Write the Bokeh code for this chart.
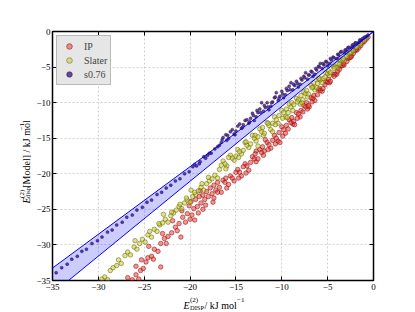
import math
from bokeh.plotting import figure
from bokeh.models import FixedTicker, LinearAxis, Label, Range1d
from bokeh.layouts import column, row
from bokeh.embed import file_html
from bokeh.resources import INLINE

# ---- data ----
ip_pts = [
    (-26.8, -34.6), (-26.3, -34.9), (-25.9, -34.2), (-25.6, -34.8), (-25.4, -33.6), (-25.9, -33.0),
    (-25.1, -33.3), (-24.8, -32.4), (-25.3, -32.1), (-24.6, -31.8), (-24.2, -31.6), (-23.9, -30.6),
    (-24.5, -30.2), (-23.5, -30.9), (-23.2, -33.1), (-23.2, -29.8), (-22.8, -29.1), (-23.0, -28.4),
    (-22.4, -28.8), (-22.0, -28.3), (-21.6, -27.5), (-21.9, -26.6), (-21.2, -27.0), (-21.0, -28.9),
    (-20.8, -26.1), (-20.5, -26.8), (-20.9, -25.2), (-20.3, -25.6), (-20.1, -24.5), (-19.8, -25.8),
    (-19.6, -24.9), (-19.4, -23.6), (-19.9, -23.9), (-19.2, -24.6), (-19.0, -23.2), (-18.8, -24.1),
    (-18.6, -23.0), (-18.9, -22.4), (-18.4, -23.6), (-18.2, -22.5), (-18.0, -23.2), (-17.8, -22.0),
    (-17.6, -22.8), (-17.5, -24.0), (-17.4, -21.6), (-17.2, -22.3), (-17.0, -21.2),
    (-16.8, -21.9), (-16.4, -20.9), (-16.0, -22.0), (-15.6, -20.3), (-15.2, -21.0), (-14.8, -19.4),
    (-14.4, -20.3), (-14.0, -18.6), (-13.6, -19.5), (-13.2, -17.6), (-12.8, -18.3), (-12.4, -16.6),
    (-12.0, -17.4), (-11.6, -15.6), (-11.2, -16.4), (-10.8, -14.6), (-10.4, -15.4), (-10.0, -13.4),
    (-9.6, -14.3), (-9.2, -12.4), (-8.8, -13.0), (-8.4, -11.4), (-8.0, -12.0), (-7.6, -10.4),
    (-7.2, -10.9), (-6.8, -9.3), (-6.4, -9.7), (-6.0, -8.2), (-5.6, -8.4), (-5.2, -7.1),
    (-4.8, -7.2), (-4.4, -6.0), (-4.0, -6.0), (-3.6, -4.9), (-3.2, -4.7), (-2.8, -3.8),
    (-2.4, -3.5), (-2.0, -2.7), (-1.6, -2.3), (-1.2, -1.6), (-0.8, -1.1),
    (-16.2, -21.2), (-15.4, -20.6), (-14.6, -19.8), (-13.8, -18.9), (-13.0, -17.9), (-12.2, -17.0),
    (-11.4, -15.9), (-10.6, -15.0), (-9.8, -13.8), (-9.0, -12.8), (-8.2, -11.6), (-7.4, -10.6),
    (-6.6, -9.4), (-5.8, -8.3), (-5.0, -7.1), (-4.2, -6.0), (-3.4, -4.8), (-2.6, -3.7),
    (-1.8, -2.6), (-10.2, -15.6), (-8.6, -13.1), (-7.0, -10.6), (-12.8, -16.8), (-11.8, -15.2),
    (-16.6, -22.6), (-16.1, -20.6), (-15.8, -21.5), (-15.0, -19.8), (-14.7, -20.6), (-14.2, -19.0),
    (-13.9, -19.9), (-13.4, -18.4), (-12.9, -17.2), (-12.6, -17.9), (-12.1, -16.2), (-11.9, -16.8),
    (-11.5, -16.6), (-11.0, -15.3), (-10.7, -15.8), (-10.3, -14.2), (-9.9, -14.7), (-9.5, -13.2),
    (-9.3, -13.7), (-8.9, -12.1), (-8.7, -12.6), (-8.3, -12.2), (-7.9, -11.1), (-7.7, -11.3),
    (-7.3, -10.0), (-7.1, -10.4), (-6.7, -9.9), (-6.5, -9.0), (-6.1, -8.9), (-5.9, -8.0),
    (-5.5, -8.0), (-5.3, -7.5), (-4.9, -6.7), (-4.7, -7.0), (-4.3, -6.3), (-3.9, -5.6),
    (-3.7, -5.3), (-3.3, -4.5), (-2.9, -4.2), (-2.5, -3.6), (-2.2, -3.1), (-1.9, -2.5),
    (-1.4, -2.0), (-1.0, -1.4), (-0.6, -0.8), (-17.4, -23.4), (-17.0, -22.6), (-18.3, -24.4),
    (-19.1, -25.5), (-20.0, -26.4), (-21.4, -28.0), (-22.6, -29.8), (-24.0, -32.0), (-19.5, -26.5),
    (-18.6, -25.0),
]

slater_pts = [
    (-29.6, -34.8), (-29.3, -34.5), (-29.0, -34.9), (-28.7, -33.6), (-28.4, -33.2), (-28.0, -32.9),
    (-27.8, -32.1), (-27.5, -32.6), (-27.1, -31.5), (-26.8, -31.0), (-26.5, -31.4), (-26.1, -30.3),
    (-26.0, -29.4), (-25.8, -30.6), (-25.5, -29.8), (-25.2, -29.2), (-24.9, -29.6), (-24.6, -28.6),
    (-24.2, -28.9), (-23.9, -27.8), (-23.6, -28.1), (-23.3, -27.2), (-23.0, -26.9), (-22.9, -25.7),
    (-22.7, -26.4), (-22.4, -26.8), (-22.1, -25.9), (-21.8, -25.5), (-21.5, -25.1), (-21.2, -24.6),
    (-20.9, -24.9), (-20.6, -24.1), (-20.3, -23.7), (-20.0, -24.0), (-19.9, -22.3), (-19.7, -23.2),
    (-19.4, -22.9), (-19.1, -22.4), (-18.8, -21.9), (-18.5, -22.3), (-18.2, -21.4), (-17.9, -21.0),
    (-17.6, -20.7), (-17.3, -20.2), (-17.0, -20.6),
    (-16.8, -19.4), (-16.4, -18.2), (-16.0, -18.9), (-15.6, -17.4), (-15.2, -18.1), (-14.8, -16.6),
    (-14.4, -17.2), (-14.0, -15.6), (-13.6, -16.3), (-13.2, -14.6), (-12.8, -15.4), (-12.4, -13.7),
    (-12.0, -14.6), (-11.6, -12.8), (-11.2, -13.8), (-10.8, -12.0), (-10.4, -12.9), (-10.0, -11.1),
    (-9.6, -12.0), (-9.2, -10.2), (-8.8, -11.1), (-8.4, -9.4), (-8.0, -10.2), (-7.6, -8.5),
    (-7.2, -9.2), (-6.8, -7.6), (-6.4, -8.2), (-6.0, -6.7), (-5.6, -7.2), (-5.2, -5.8),
    (-4.8, -6.2), (-4.4, -4.9), (-4.0, -5.1), (-3.6, -4.0), (-3.2, -4.1), (-2.8, -3.1),
    (-2.4, -3.0), (-2.0, -2.3), (-1.6, -2.0), (-1.2, -1.4), (-0.8, -0.9),
    (-16.2, -18.6), (-15.4, -17.8), (-14.6, -16.9), (-13.8, -16.0), (-13.0, -15.0), (-12.2, -14.1),
    (-11.4, -13.2), (-10.6, -12.4), (-9.8, -11.4), (-9.0, -10.6), (-8.2, -9.6), (-7.4, -8.7),
    (-6.6, -7.8), (-5.8, -6.8), (-5.0, -5.9), (-4.2, -5.0), (-3.4, -4.0), (-2.6, -3.1),
    (-1.8, -2.1), (-11.0, -14.1), (-9.4, -12.1), (-7.8, -10.0), (-6.2, -7.9), (-12.6, -16.1),
    (-16.6, -18.8), (-16.1, -19.3), (-15.8, -17.7), (-15.0, -17.5), (-14.7, -17.7), (-14.2, -16.7),
    (-13.9, -15.5), (-13.4, -15.8), (-12.9, -14.6), (-12.6, -14.8), (-12.1, -13.5), (-11.9, -14.3),
    (-11.5, -12.9), (-11.0, -12.9), (-10.7, -13.1), (-10.3, -11.8), (-9.9, -12.2), (-9.5, -10.9),
    (-9.3, -11.4), (-8.9, -10.0), (-8.7, -10.3), (-8.3, -9.9), (-7.9, -9.0), (-7.7, -9.6),
    (-7.3, -8.3), (-7.1, -8.8), (-6.7, -7.9), (-6.5, -7.2), (-6.1, -7.3), (-5.9, -6.6),
    (-5.5, -6.6), (-5.3, -6.4), (-4.9, -5.5), (-4.7, -5.8), (-4.3, -5.2), (-3.9, -4.5),
    (-3.7, -4.6), (-3.3, -3.8), (-2.9, -3.5), (-2.5, -2.9), (-2.2, -2.7), (-1.9, -2.2),
    (-1.4, -1.7), (-1.0, -1.2), (-18.0, -20.5), (-18.7, -21.4), (-19.5, -22.6), (-20.4, -23.4),
    (-21.1, -24.3), (-22.0, -25.4), (-23.4, -27.0), (-24.4, -28.1),
]

s076_pts = [
    (-34.6, -33.9), (-34.0, -33.2), (-33.4, -32.7), (-32.9, -32.0), (-32.3, -31.6), (-31.8, -30.9),
    (-31.3, -30.6), (-30.7, -29.8), (-30.1, -29.4), (-29.6, -28.9), (-29.0, -28.2), (-28.5, -27.9),
    (-28.0, -27.2), (-27.4, -26.8), (-26.9, -26.1), (-26.3, -25.8), (-25.8, -25.1), (-25.2, -24.7),
    (-24.7, -24.0), (-24.2, -23.7), (-23.6, -22.9), (-23.1, -22.6), (-22.6, -22.0), (-22.1, -21.6),
    (-21.6, -21.0), (-21.1, -20.7), (-20.6, -20.0), (-20.1, -19.7), (-19.7, -19.0), (-19.3, -18.9),
    (-18.9, -18.3), (-18.5, -17.6), (-18.1, -17.4), (-17.7, -17.1), (-17.3, -16.5),
    (-16.8, -16.0), (-16.4, -14.9), (-16.0, -15.3), (-15.6, -14.1), (-15.2, -14.4), (-14.8, -13.3),
    (-14.4, -13.6), (-14.0, -12.5), (-13.6, -12.9), (-13.2, -11.5), (-12.8, -12.0), (-12.4, -10.9),
    (-12.0, -11.2), (-11.6, -10.0), (-11.2, -10.5), (-10.8, -9.3), (-10.4, -9.7), (-10.0, -8.4),
    (-9.6, -8.9), (-9.2, -7.7), (-8.8, -8.2), (-8.4, -7.0), (-8.0, -7.4), (-7.6, -6.3),
    (-7.2, -6.7), (-6.8, -5.6), (-6.4, -6.0), (-6.0, -4.9), (-5.6, -5.2), (-5.2, -4.2),
    (-4.8, -4.5), (-4.4, -3.6), (-4.0, -3.8), (-3.6, -2.9), (-3.2, -3.0), (-2.8, -2.3),
    (-2.4, -2.2), (-2.0, -1.6), (-1.6, -1.5), (-1.2, -1.0), (-0.8, -0.7),
    (-16.6, -15.6), (-15.9, -14.6), (-15.0, -14.0), (-14.2, -13.1), (-13.4, -12.2), (-12.6, -11.4),
    (-11.8, -10.7), (-11.0, -9.9), (-10.2, -9.1), (-9.4, -8.3), (-8.6, -7.6), (-7.8, -6.8),
    (-7.0, -6.1), (-6.2, -5.4), (-5.4, -4.7), (-4.6, -4.0), (-3.8, -3.3), (-3.0, -2.6),
    (-2.2, -1.9), (-1.4, -1.2), (-13.0, -12.5), (-11.4, -11.0), (-9.8, -9.3), (-8.2, -7.8),
    (-6.6, -6.3), (-5.0, -4.8), (-9.0, -7.2), (-7.4, -5.8), (-5.8, -4.5), (-10.6, -8.6),
    (-12.2, -10.0),
    (-16.5, -15.2), (-16.1, -14.5), (-15.8, -15.0), (-15.4, -13.8), (-15.1, -14.5), (-14.6, -13.0),
    (-14.3, -13.5), (-13.8, -12.4), (-13.5, -12.7), (-13.1, -11.8), (-12.7, -11.1), (-12.3, -11.4),
    (-11.9, -10.4), (-11.5, -10.6), (-11.1, -10.0), (-10.7, -9.2), (-10.3, -9.4), (-9.9, -8.8),
    (-9.5, -8.0), (-9.1, -8.2), (-8.7, -7.4), (-8.3, -7.3), (-7.9, -6.6), (-7.5, -6.5),
    (-7.1, -6.1), (-6.7, -5.7), (-6.3, -5.2), (-5.9, -5.0), (-5.5, -4.5), (-5.1, -4.3),
    (-4.7, -3.8), (-4.3, -3.7), (-3.9, -3.2), (-3.5, -2.8), (-3.1, -2.6), (-2.7, -2.2),
    (-2.3, -1.9), (-1.9, -1.6), (-1.5, -1.2), (-1.0, -0.8), (-0.6, -0.5), (-17.0, -16.2),
    (-17.9, -17.1), (-18.3, -17.8), (-19.0, -18.6), (-19.5, -18.7),
]

# +/-5 % band around the diagonal
band_x = [-40.0, 0.0]
band_upper = [-38.0, 0.0]
band_lower = [-42.1, 0.0]

ticks = [-35, -30, -25, -20, -15, -10, -5, 0]
tick_labels = ["\u221235", "\u221230", "\u221225", "\u221220", "\u221215", "\u221210", "\u22125", "0"]

SERIF = "Liberation Serif"

ip_x = [a for a, b in ip_pts]
ip_y = [b for a, b in ip_pts]
sl_x = [a for a, b in slater_pts]
sl_y = [b for a, b in slater_pts]
s_x = [a for a, b in s076_pts]
s_y = [b for a, b in s076_pts]

# ---- layout geometry (px) ----
WY = 31            # width of the strip that holds the y title
LEFT = 52 - WY     # left border of main plot (y tick labels)
TOP, BOT = 31, 14  # borders of the main plot
RIGHT = 34
HM = TOP + 249 + BOT
HX = 16            # strip that holds the x title

p = figure(frame_width=321, frame_height=249,
           x_range=Range1d(-35, 0), y_range=Range1d(-35, 0),
           output_backend="svg", toolbar_location=None,
           min_border_left=LEFT, min_border_right=RIGHT,
           min_border_top=TOP, min_border_bottom=BOT,
           background_fill_color="white", border_fill_color="white")

p.outline_line_color = "black"
p.outline_line_width = 1.5

p.scatter(ip_x, ip_y, size=4.5, fill_color="#e8403a", fill_alpha=0.55,
          line_color="#8b0000", line_alpha=0.85, line_width=0.6, legend_label="IP")
p.scatter(sl_x, sl_y, size=4.5, fill_color="#cccc33", fill_alpha=0.55,
          line_color="#5c5c00", line_alpha=0.85, line_width=0.6, legend_label="Slater")
p.scatter(s_x, s_y, size=3, fill_color="#4e2a88", fill_alpha=0.85,
          line_color="#1f0a4a", line_alpha=0.9, line_width=0.5, legend_label="s0.76")

p.varea(x=band_x, y1=band_lower, y2=band_upper, fill_color="blue", fill_alpha=0.2)
p.line(band_x, band_upper, line_color="blue", line_width=1)
p.line(band_x, band_lower, line_color="blue", line_width=1)

overrides = {t: l for t, l in zip(ticks, tick_labels)}
for ax in (p.xaxis[0], p.yaxis[0]):
    ax.ticker = FixedTicker(ticks=ticks)
    ax.major_label_overrides = overrides
    ax.major_tick_in = 4
    ax.major_tick_out = 0
    ax.minor_tick_line_color = None
    ax.axis_line_color = None
    ax.major_tick_line_color = "black"
    ax.major_label_text_font = SERIF
    ax.major_label_text_font_size = "9px"
    ax.major_label_text_color = "black"
p.xaxis[0].major_label_standoff = 3
p.yaxis[0].major_label_standoff = 2

for side in ("above", "right"):
    ax = LinearAxis(ticker=FixedTicker(ticks=ticks), major_tick_in=4, major_tick_out=0,
                    minor_tick_line_color=None, axis_line_color=None,
                    major_label_text_font_size="0px", major_label_text_color=None,
                    major_label_standoff=0)
    p.add_layout(ax, side)

for g in (p.xgrid[0], p.ygrid[0]):
    g.ticker = FixedTicker(ticks=ticks)
    g.grid_line_color = "#c4c4c4"
    g.grid_line_dash = "2 2"
    g.grid_line_width = 0.8

leg = p.legend[0]
leg.location = "top_left"
leg.margin = 4
leg.padding = 3
leg.spacing = 0
leg.glyph_width = 18
leg.glyph_height = 14
leg.label_height = 14
leg.label_standoff = 6
leg.label_text_font = SERIF
leg.label_text_font_size = "10px"
leg.background_fill_color = "#e6e6e6"
leg.background_fill_alpha = 1.0
leg.border_line_color = "#8c8c8c"
leg.border_line_width = 1


def text_fig(w, h):
    f = figure(width=w, height=h, x_range=Range1d(0, w), y_range=Range1d(0, h),
               output_backend="svg", toolbar_location=None, min_border=0,
               x_axis_location=None, y_axis_location=None,
               outline_line_color=None, background_fill_color="white",
               border_fill_color="white")
    f.grid.visible = False
    return f


def lab(f, text, x, y, size, angle=0.0, style="normal"):
    f.add_layout(Label(x=x, y=y, text=text, text_font=SERIF, text_font_size=size,
                       text_font_style=style, text_color="black",
                       text_align="left", text_baseline="alphabetic", angle=angle))


# y title strip (page x = data x, page y = HM - data y)
fy = text_fig(WY, HM)
A = math.pi / 2
lab(fy, "E", 26, HM - 203, "10px", angle=A, style="italic")
lab(fy, "(2)", 21.5, HM - 196.5, "7px", angle=A)
lab(fy, "disp", 27.3, HM - 196.5, "6.5px", angle=A)
lab(fy, "[Model] / kJ mol", 26, HM - 184.5, "10px", angle=A)
lab(fy, "\u22121", 21.5, HM - 116.5, "7px", angle=A)

# x title strip (page x = data x, page y = HM + HX - data y)
WX = WY + LEFT + 321 + RIGHT
fx = text_fig(WX, HX)
Y0 = HM + HX
lab(fx, "E", 183, Y0 - 304.5, "10px", style="italic")
lab(fx, "(2)", 189.5, Y0 - 299.8, "7px")
lab(fx, "DISP", 189.5, Y0 - 306.8, "6.5px")
lab(fx, "/ kJ mol", 204, Y0 - 304.5, "10px")
lab(fx, "\u22121", 236.5, Y0 - 299.8, "7px")

layout = column(row(fy, p), fx)
open("out.html", "w").write(file_html(layout, INLINE))
